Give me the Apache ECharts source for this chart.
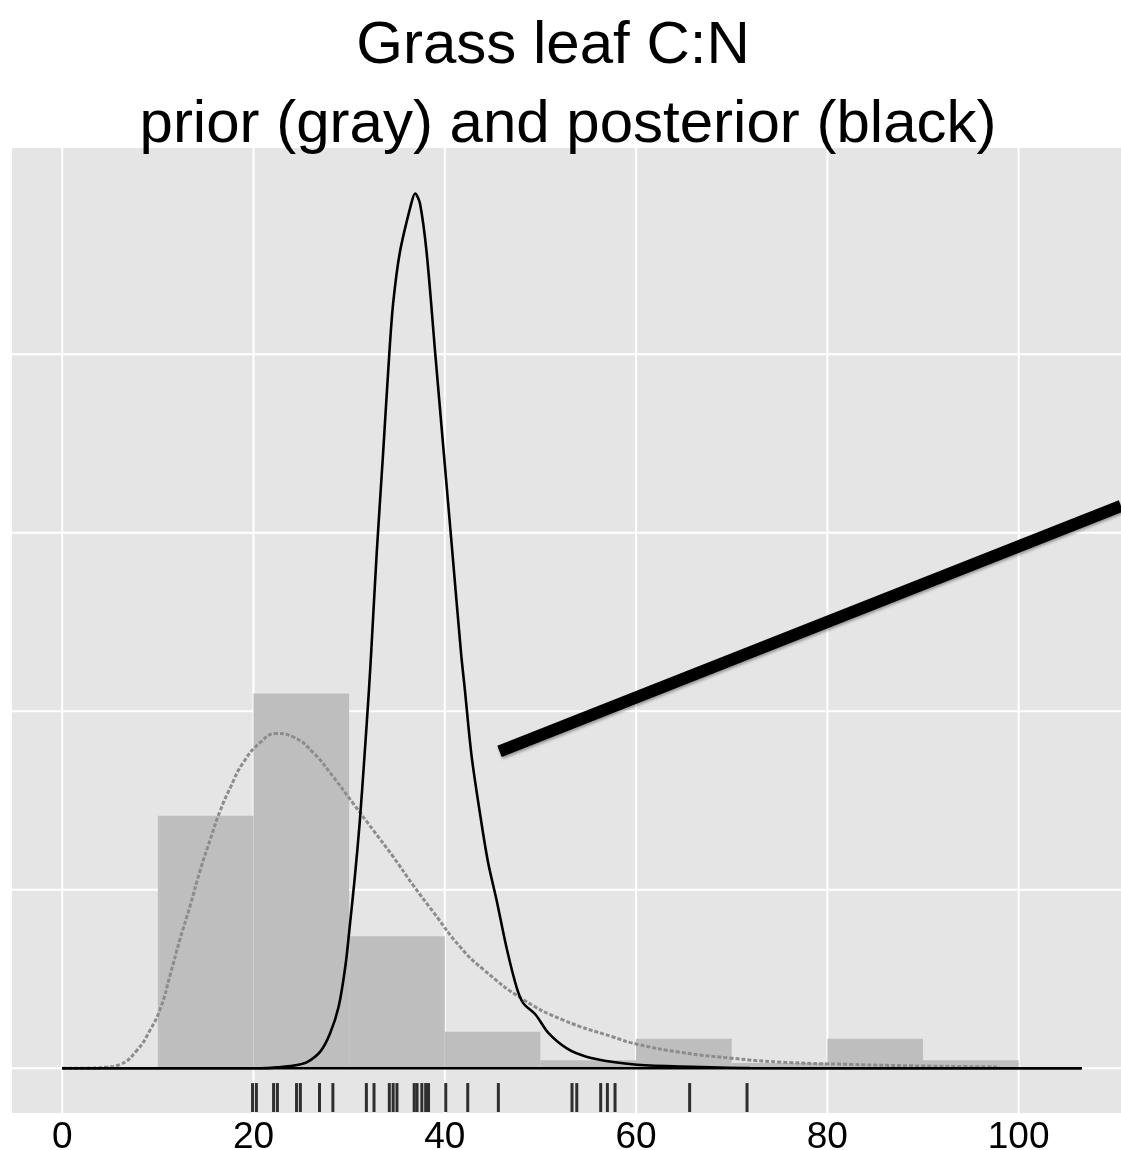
<!DOCTYPE html>
<html>
<head>
<meta charset="utf-8">
<script src="https://cdn.jsdelivr.net/npm/echarts@6/dist/echarts.min.js"></script>
<style>
  html, body { margin: 0; padding: 0; background: #ffffff; }
  #chart { width: 1121px; height: 1150px; }
</style>
</head>
<body>
<div id="chart"></div>
<script>
// Axis breaks
const xTickValues = [0, 20, 40, 60, 80, 100];
const yGridValues = [0, 0.02, 0.04, 0.06, 0.08];

// Histogram of observed grass leaf C:N (density scale, 10-unit bins)
const binStarts  = [10, 20, 30, 40, 50, 60, 70, 80, 90];
const binEnds    = [20, 30, 40, 50, 60, 70, 80, 90, 100];
const binDensity = [0.0283, 0.0420, 0.0148, 0.0041, 0.0009, 0.0033, 0.0006, 0.0033, 0.0009];

// Prior density (gray)
const priorX = [0, 3.0, 4.5, 6.0, 7.8, 9.2, 10.3, 11.3, 12.3, 13.4, 14.4, 15.5, 16.5, 17.6, 18.9, 20.7,
                22.4, 24.2, 26.3, 28.3, 30.4, 32.5, 34.6, 36.7, 38.8, 41.6, 44.0, 48.2, 52.4, 57.6,
                60.1, 64.6, 69.8, 75.0, 82.4, 89.7, 98.0];
const priorY = [0, 0.00002, 0.00012, 0.0004, 0.0020, 0.0043, 0.0068, 0.0105, 0.0144, 0.0183, 0.0221,
                0.0257, 0.0288, 0.0315, 0.0342, 0.0365, 0.0375, 0.0371, 0.0353, 0.0327, 0.0297,
                0.0267, 0.0237, 0.0205, 0.0175, 0.0136, 0.0111, 0.0077, 0.0054, 0.0035,
                0.0027, 0.0018, 0.00115, 0.0007, 0.00043, 0.00026, 0.00015];

// Posterior density (black)
const postX = [0, 20.7, 22.4, 24.2, 25.6, 27.0, 28.0, 28.9, 29.6, 30.1, 30.6, 31.1, 31.6, 32.07, 32.3, 32.88,
               33.55, 34.2, 34.6, 35.3, 36.5, 36.9, 37.4, 38.1, 39.0, 39.9, 40.8, 41.7, 42.1, 42.8,
               43.7, 44.5, 45.4, 46.5, 47.5, 48.2, 49.5, 50.8, 52.8, 54.8, 57.6, 60.1, 64.6, 71.9, 82.4, 106.6];
const postY = [0, 0, 0.0001, 0.0003, 0.0007, 0.0019, 0.0039, 0.0069, 0.0114, 0.0163, 0.0215, 0.0275, 0.0349,
               0.0424, 0.0465, 0.0577, 0.0689, 0.0801, 0.0857, 0.0914, 0.0969, 0.0980, 0.0969, 0.0914,
               0.0801, 0.0689, 0.0577, 0.0465, 0.0424, 0.0350, 0.0284, 0.0232, 0.0189, 0.0133, 0.0091,
               0.0073, 0.0060, 0.0040, 0.0022, 0.0013, 0.0007, 0.0004, 0.0002, 0.00003, 0, 0];

// Individual observations shown as a rug
const rugValues = [19.9, 20.3, 22.1, 22.5, 24.5, 24.9, 26.9, 28.3, 31.8, 32.6, 34.2, 34.6, 35.0,
                   36.8, 37.1, 37.6, 38.0, 38.3, 40.1, 42.4, 45.6, 53.3, 53.8, 56.3, 57.0, 57.8, 65.6, 71.6];

// Pointer line drawn over the plot
const pointerX = [45.72, 110.7];
const pointerY = [0.0355, 0.0630];

const FONT = '"Liberation Sans", Arial, Helvetica, sans-serif';

const chart = echarts.init(document.getElementById('chart'), null, { renderer: 'canvas' });

const zip = (a, b) => a.map((v, i) => [v, b[i]]);

chart.setOption({
  animation: false,
  backgroundColor: '#ffffff',
  title: [
    {
      text: 'Grass leaf C:N',
      left: 553, top: 16, textAlign: 'center', padding: 0,
      textStyle: { fontFamily: FONT, fontSize: 60, fontWeight: 'normal', color: '#000000' }
    },
    {
      text: 'prior (gray) and posterior (black)',
      left: 568, top: 95, textAlign: 'center', padding: 0,
      textStyle: { fontFamily: FONT, fontSize: 60, fontWeight: 'normal', color: '#000000' }
    }
  ],
  grid: {
    left: 12, right: 0, top: 148, bottom: 37,
    outerBoundsMode: 'none', containLabel: false,
    show: true, backgroundColor: '#E5E5E5', borderWidth: 0
  },
  xAxis: {
    type: 'value', min: -5.25, max: 110.7,
    axisLine: { show: false }, axisTick: { show: false }, splitLine: { show: false },
    axisLabel: {
      customValues: xTickValues,
      fontFamily: FONT, fontSize: 37, color: '#000000', margin: 6
    }
  },
  yAxis: {
    type: 'value', min: -0.00501, max: 0.1031,
    axisLine: { show: false }, axisTick: { show: false }, splitLine: { show: false },
    axisLabel: { show: false }
  },
  series: [
    {
      // horizontal panel grid lines
      type: 'custom', z: 0, silent: true, clip: true,
      data: yGridValues.map(v => [v]),
      encode: { y: 0 },
      renderItem: (params, api) => {
        const cs = params.coordSys;
        const y = api.coord([0, api.value(0)])[1];
        return { type: 'line', shape: { x1: cs.x, y1: y, x2: cs.x + cs.width, y2: y },
                 style: { stroke: '#ffffff', lineWidth: 2 } };
      }
    },
    {
      // vertical panel grid lines
      type: 'custom', z: 0, silent: true, clip: true,
      data: xTickValues.map(v => [v]),
      encode: { x: 0 },
      renderItem: (params, api) => {
        const cs = params.coordSys;
        const x = api.coord([api.value(0), 0])[0];
        return { type: 'line', shape: { x1: x, y1: cs.y, x2: x, y2: cs.y + cs.height },
                 style: { stroke: '#ffffff', lineWidth: 2 } };
      }
    },
    {
      // histogram bars
      name: 'data', type: 'custom', z: 1, silent: true, clip: true,
      data: binStarts.map((s, i) => [s, binEnds[i], binDensity[i]]),
      encode: { x: [0, 1], y: 2 },
      renderItem: (params, api) => {
        const p0 = api.coord([api.value(0), 0]);
        const p1 = api.coord([api.value(1), api.value(2)]);
        return { type: 'rect',
                 shape: { x: p0[0], y: p1[1], width: p1[0] - p0[0], height: p0[1] - p1[1] },
                 style: { fill: '#BEBEBE' } };
      }
    },
    {
      name: 'prior', type: 'line', z: 2, silent: true,
      data: zip(priorX, priorY),
      showSymbol: false, smooth: 0.5,
      lineStyle: { color: '#8c8c8c', width: 3, type: [4, 2] }
    },
    {
      name: 'posterior', type: 'line', z: 3, silent: true,
      data: zip(postX, postY),
      showSymbol: false, smooth: 0.3,
      lineStyle: { color: '#000000', width: 2.6 }
    },
    {
      // closing baseline of the posterior density outline
      name: 'posterior base', type: 'line', z: 3, silent: true,
      data: [[postX[0], 0], [postX[postX.length - 1], 0]],
      showSymbol: false,
      lineStyle: { color: '#000000', width: 2.6 }
    },
    {
      // rug of observations along the bottom of the panel
      name: 'observations', type: 'custom', z: 4, silent: true,
      data: rugValues.map(v => [v]),
      encode: { x: 0 },
      renderItem: (params, api) => {
        const cs = params.coordSys;
        const x = api.coord([api.value(0), 0])[0];
        const bottom = cs.y + cs.height - 1;
        const len = cs.height * 0.03;
        return { type: 'line', shape: { x1: x, y1: bottom, x2: x, y2: bottom - len },
                 style: { stroke: 'rgba(0,0,0,0.8)', lineWidth: 3 } };
      }
    },
    {
      name: 'pointer', type: 'line', z: 5, silent: true,
      data: zip(pointerX, pointerY),
      showSymbol: false,
      lineStyle: { color: '#000000', width: 12, cap: 'butt',
                   shadowColor: 'rgba(0,0,0,0.35)', shadowBlur: 3, shadowOffsetX: 1, shadowOffsetY: 2 }
    }
  ]
});
</script>
</body>
</html>
